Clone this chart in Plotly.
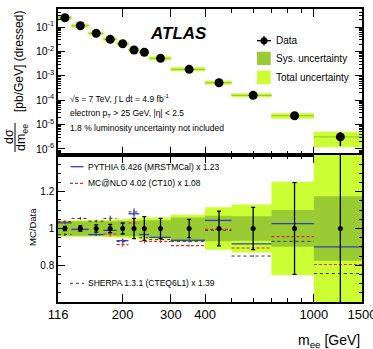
import math
import plotly.graph_objects as go

# ---------------- data ----------------
bin_edges = [116, 130, 150, 170, 190, 210, 230, 250, 300, 400, 500, 700, 1000, 1500]
xsec = [0.240, 0.113, 0.0552, 0.0313, 0.0207, 0.0114, 0.0092, 0.0052,
        0.00184, 0.00052, 0.000158, 2.3e-5, 3.1e-6]          # pb/GeV
stat_unc = [0.012, 0.015, 0.02, 0.022, 0.03, 0.055, 0.065, 0.055,
            0.05, 0.095, 0.115, 0.25, 0.58]                  # relative
sys_unc = [0.04, 0.04, 0.04, 0.04, 0.042, 0.042, 0.045, 0.045,
           0.06, 0.07, 0.067, 0.10, 0.175]
tot_unc = [0.045, 0.045, 0.045, 0.047, 0.05, 0.055, 0.06, 0.06,
           0.075, 0.115, 0.13, 0.255, 0.62]
pythia_ratio = [1.031, 0.995, 0.967, 0.990, 0.934, 1.080, 0.967, 0.952,
                0.936, 1.044, 0.916, 1.026, 0.900]
mcnlo_ratio = [1.037, 0.995, 0.967, 0.970, 0.912, 1.030, 0.930, 0.930,
               0.907, 0.995, 0.894, 0.956, 0.804]
sherpa_ratio = [0.967, 1.055, 1.040, 1.055, 0.930, 1.090, 0.950, 0.940,
                0.930, 0.990, 0.850, 0.930, 0.755]
mc_err = [0.008, 0.008, 0.008, 0.015, 0.012, 0.02, 0.012, 0.008,
          0.006, 0.005, 0.005, 0.005, 0.005]

x_tick_vals = [116, 200, 300, 400, 1000, 1500]
x_tick_text = ["116", "200", "300", "400", "1000", "1500"]
x_minor_vals = [500, 600, 700, 800, 900]

# ---------------- geometry ----------------
W, H = 373, 349
ML, MR, MT, MB = 58, 11, 9, 47
PW, PH = W - ML - MR, H - MT - MB
split = 147 / PH

def px2x(px):
    return (px - ML) / PW

def py2y(py):
    return (H - MB - py) / PH

LIGHT = "#ccff33"
DARK = "#99cc33"
BLUE = "#2f3fc4"
RED = "#e0262a"
FONT = "Liberation Sans"

lo = bin_edges[:-1]
hi = bin_edges[1:]
centers = [(a + b) / 2 for a, b in zip(lo, hi)]

def rect_path(ylo, yhi):
    xs, ys = [], []
    for a, b, y0, y1 in zip(lo, hi, ylo, yhi):
        xs += [a, b, b, a, a, None]
        ys += [y0, y0, y1, y1, y0, None]
    return xs, ys

def seg_path(vals):
    xs, ys = [], []
    for a, b, v in zip(lo, hi, vals):
        xs += [a, b, None]
        ys += [v, v, None]
    return xs, ys

fig = go.Figure()

# ---------------- top panel ----------------
xs, ys = rect_path([v * (1 - t) for v, t in zip(xsec, tot_unc)],
                   [v * (1 + t) for v, t in zip(xsec, tot_unc)])
fig.add_trace(go.Scatter(x=xs, y=ys, fill="toself", fillcolor=LIGHT, mode="none",
                         xaxis="x", yaxis="y", showlegend=False, hoverinfo="skip"))
xs, ys = rect_path([v * (1 - s) for v, s in zip(xsec, sys_unc)],
                   [v * (1 + s) for v, s in zip(xsec, sys_unc)])
fig.add_trace(go.Scatter(x=xs, y=ys, fill="toself", fillcolor=DARK, mode="none",
                         xaxis="x", yaxis="y", showlegend=False, hoverinfo="skip"))
xs, ys = seg_path(xsec)
fig.add_trace(go.Scatter(x=xs, y=ys, mode="lines", line=dict(color=LIGHT, width=4),
                         xaxis="x", yaxis="y", showlegend=False, hoverinfo="skip"))
fig.add_trace(go.Scatter(x=xs, y=ys, mode="lines", line=dict(color=DARK, width=1.2),
                         xaxis="x", yaxis="y", showlegend=False, hoverinfo="skip"))
fig.add_trace(go.Scatter(
    x=centers, y=xsec, mode="markers",
    marker=dict(color="black", size=9),
    error_y=dict(type="data", array=[v * s for v, s in zip(xsec, stat_unc)],
                 color="black", thickness=1.5, width=0),
    xaxis="x", yaxis="y", showlegend=False))

# ---------------- ratio panel ----------------
ones = [1.0] * len(lo)
xs, ys = rect_path([1 - t for t in tot_unc], [1 + t for t in tot_unc])
fig.add_trace(go.Scatter(x=xs, y=ys, fill="toself", fillcolor=LIGHT, mode="none",
                         xaxis="x2", yaxis="y2", showlegend=False, hoverinfo="skip"))
xs, ys = rect_path([1 - s for s in sys_unc], [1 + s for s in sys_unc])
fig.add_trace(go.Scatter(x=xs, y=ys, fill="toself", fillcolor=DARK, mode="none",
                         xaxis="x2", yaxis="y2", showlegend=False, hoverinfo="skip"))

for vals, col, dash, wd in [(sherpa_ratio, "#333333", "dot", 1.0),
                            (mcnlo_ratio, RED, "3px,2px", 1.2),
                            (pythia_ratio, BLUE, "solid", 1.3)]:
    xs, ys = seg_path(vals)
    fig.add_trace(go.Scatter(x=xs, y=ys, mode="lines",
                             line=dict(color=col, width=wd, dash=dash),
                             xaxis="x2", yaxis="y2", showlegend=False, hoverinfo="skip"))
    fig.add_trace(go.Scatter(x=centers, y=vals, mode="markers",
                             marker=dict(size=1, color=col, opacity=0),
                             error_y=dict(type="data", array=mc_err, color=col,
                                          thickness=1, width=0),
                             xaxis="x2", yaxis="y2", showlegend=False, hoverinfo="skip"))

fig.add_trace(go.Scatter(
    x=centers, y=ones, mode="markers",
    marker=dict(color="black", size=5),
    error_y=dict(type="data", array=stat_unc, color="black", thickness=1.3, width=2),
    xaxis="x2", yaxis="y2", showlegend=False))

# ---------------- axes ----------------
xr = [math.log10(bin_edges[0]), math.log10(bin_edges[-1])]
axis_common = dict(showline=True, linecolor="black", linewidth=1.5, mirror="ticks",
                   ticks="inside", tickcolor="black", showgrid=False, zeroline=False,
                   automargin=False)
x_common = dict(type="log", range=xr, tickvals=x_tick_vals, ticktext=x_tick_text,
                ticklen=8, tickwidth=1.2,
                minor=dict(tickvals=x_minor_vals, ticks="inside", ticklen=4,
                           tickcolor="black", tickwidth=1.2),
                **axis_common)

fig.update_layout(
    width=W, height=H,
    margin=dict(l=ML, r=MR, t=MT, b=MB, autoexpand=False),
    paper_bgcolor="white", plot_bgcolor="white",
    font=dict(family=FONT, color="black"),
    showlegend=False,
    xaxis=dict(domain=[0, 1], anchor="y", showticklabels=False, **x_common),
    yaxis=dict(domain=[split, 1], anchor="x", type="log", range=[-6.25, -0.26],
               tickvals=[10 ** e for e in range(-6, 0)],
               ticktext=["10<sup>-%d</sup>" % k for k in range(6, 0, -1)],
               ticklen=7, tickwidth=1.2, tickfont=dict(size=10.5),
               minor=dict(tickvals=[k * 10 ** e for e in range(-7, 0) for k in range(2, 10)],
                          ticks="inside", ticklen=3.5, tickcolor="black", tickwidth=1),
               **axis_common),
    xaxis2=dict(domain=[0, 1], anchor="y2", tickfont=dict(size=13),
                ticklabeloverflow="allow", **x_common),
    yaxis2=dict(domain=[0, split], anchor="x2", range=[0.6, 1.4],
                tickvals=[0.8, 1.0, 1.2], ticktext=["0.8", "1", "1.2"],
                ticklen=7, tickwidth=1.2, tickfont=dict(size=10),
                minor=dict(dtick=0.05, ticks="inside", ticklen=3.5,
                           tickcolor="black", tickwidth=1),
                **axis_common),
)

# ---------------- texts ----------------
ann = []
def text(px, py, s, size, xanchor="left", **kw):
    ann.append(dict(x=px2x(px), y=py2y(py), xref="paper", yref="paper", text=s,
                    showarrow=False, xanchor=xanchor, yanchor="middle",
                    font=dict(size=size, family=FONT, color="black"), **kw))

text(178, 33, "<b><i>ATLAS</i></b>", 17, xanchor="center")
text(274, 40.7, "Data", 10)
text(274, 58.3, "Sys. uncertainty", 10)
text(274, 77.3, "Total uncertainty", 10)
text(68, 98.3, "√s = 7 TeV, ∫ L dt = 4.9 fb<sup>-1</sup>", 8.5)
text(68, 113.3, "electron p<sub>T</sub> > 25 GeV, |η| < 2.5", 8.5)
text(68, 127.7, "1.8 % luminosity uncertainty not included", 8.5)
text(86, 166.7, "PYTHIA 6.426 (MRSTMCal) x 1.23", 8.5)
text(86, 183.3, "MC@NLO 4.02 (CT10) x 1.08", 8.5)
text(86, 283.3, "SHERPA 1.3.1 (CTEQ6L1) x 1.39", 8.5)
text(362, 341, "m<sub>ee</sub> [GeV]", 14, xanchor="right")
text(32, 227, "MC/Data", 9.5, xanchor="center", textangle=-90)
text(19, 62, "[pb/GeV] (dressed)", 12, xanchor="center", textangle=-90)
text(9, 137, "dσ", 12.5, xanchor="center", textangle=-90)
text(22, 138, "dm<sub>ee</sub>", 12.5, xanchor="center", textangle=-90)
fig.update_layout(annotations=ann)

# ---------------- legend keys (decorations) ----------------
shapes = []
def pline(x0, y0, x1, y1, color, width=1.2, dash="solid"):
    shapes.append(dict(type="line", xref="paper", yref="paper",
                       x0=px2x(x0), y0=py2y(y0), x1=px2x(x1), y1=py2y(y1),
                       line=dict(color=color, width=width, dash=dash)))

pline(15, 123, 15, 152, "black", 1)                     # fraction bar
pline(257, 40.7, 271, 40.7, "black", 1.3)
pline(264, 36, 264, 45.5, "black", 1.3)
shapes.append(dict(type="circle", xref="paper", yref="paper",
                   x0=px2x(260.5), x1=px2x(267.5), y0=py2y(44.2), y1=py2y(37.2),
                   fillcolor="black", line=dict(color="black", width=0)))
shapes.append(dict(type="rect", xref="paper", yref="paper",
                   x0=px2x(257), x1=px2x(270.7), y0=py2y(65), y1=py2y(51.7),
                   fillcolor=DARK, line=dict(width=0)))
shapes.append(dict(type="rect", xref="paper", yref="paper",
                   x0=px2x(257), x1=px2x(270.7), y0=py2y(84), y1=py2y(70.5),
                   fillcolor=LIGHT, line=dict(width=0)))
pline(70.5, 166.7, 83.5, 166.7, BLUE, 1.3)
pline(70, 183.3, 84, 183.3, RED, 1.2, "3px,2px")
pline(70, 283.3, 84, 283.3, "#333333", 1.0, "dot")
fig.update_layout(shapes=shapes)

fig.write_html("out.html")
